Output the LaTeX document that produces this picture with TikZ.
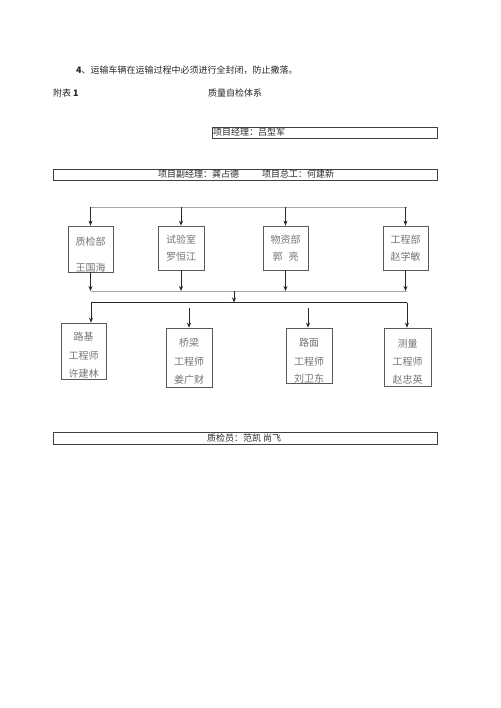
\documentclass[tikz,border=0pt]{standalone}
\usepackage{fontspec}
\newfontfamily\cjk{Noto Sans CJK SC}
\usetikzlibrary{arrows.meta}
\begin{document}
\begin{tikzpicture}[x=1pt,y=-1pt,
  bar/.style={draw=black!75,line width=0.7pt},
  box/.style={draw=black!65,line width=0.7pt,inner sep=0pt},
  btxt/.style={font=\cjk\fontsize{10}{12}\selectfont,text=black!55,inner sep=0pt},
  ttxt/.style={font=\cjk\fontsize{9}{11}\selectfont,text=black!85,inner sep=0pt},
  arr/.style={-{Stealth[length=5pt,width=4pt]},line width=0.8pt,black!85},
  thin/.style={draw=black!35,line width=0.5pt}]
\useasboundingbox (0,0) rectangle (500,708);
% header text
\node[ttxt,anchor=west] (t1) at (76,70) {\textbf{4}、运输车辆在运输过程中必须进行全封闭，防止撒落。};
\node[ttxt,anchor=west] (t2) at (53,93) {附表 \textbf{1}};
\node[ttxt,anchor=west] (t3) at (208,93) {质量自检体系};
% bars
\node[bar,minimum width=225pt,minimum height=11pt,inner sep=0pt] (pm) at (324.5,132.5) {};
\node[ttxt,anchor=west] (pmt) at (213,132.5) {项目经理：吕型军};
\node[bar,minimum width=384pt,minimum height=11pt,inner sep=0pt] (dep) at (245,174.5) {};
\node[ttxt,anchor=west] (dept1) at (158,174.5) {项目副经理：龚占德};
\node[ttxt,anchor=west] (dept2) at (262,174.5) {项目总工：何建新};
\node[bar,minimum width=384pt,minimum height=12pt,inner sep=0pt] (qc) at (245,438) {};
\node[ttxt,anchor=west] (qct) at (207,438) {质检员：范凯 尚飞};
% top distribution line
\coordinate (tl) at (91,207);
\coordinate (tr) at (407,207);
\draw[thin] (tl) -- (tr);
% departments
\node[box,minimum width=45pt,minimum height=46pt] (b1) at (90.5,249) {};
\node[box,minimum width=46pt,minimum height=44pt] (b2) at (181,248) {};
\node[box,minimum width=45pt,minimum height=44pt] (b3) at (285.5,248) {};
\node[box,minimum width=45pt,minimum height=44pt] (b4) at (405.5,248) {};
\node[btxt] (b1a) at (90.5,242) {质检部};
\node[btxt] (b1b) at (90.5,268) {王国海};
\node[btxt] (b2a) at (181,240) {试验室};
\node[btxt] (b2b) at (181,257) {罗恒江};
\node[btxt] (b3a) at (285.5,240) {物资部};
\node[btxt] (b3b) at (285.5,257) {郭\hspace{0.6em}亮};
\node[btxt] (b4a) at (405.5,240) {工程部};
\node[btxt] (b4b) at (405.5,257) {赵学敏};
\foreach \b in {b1,b2,b3,b4} \draw[arr] (\b.north |- tl) -- (\b.north);
% collection line
\coordinate (ml) at (91,291);
\coordinate (mr) at (407,291);
\draw[thin] (ml) -- (mr);
\foreach \b in {b1,b2,b3,b4} \draw[arr] (\b.south) -- (\b.south |- ml);
\coordinate (mc) at (234,291);
\coordinate (ll) at (91,302.5);
\coordinate (lr) at (407,302.5);
\draw[line width=1pt,black!85] (ll) -- (lr);
\draw[arr] (mc) -- (mc |- ll);
% engineers
\node[box,minimum width=45pt,minimum height=56pt] (c1) at (83.5,351) {};
\node[box,minimum width=46pt,minimum height=59pt] (c2) at (189,357.5) {};
\node[box,minimum width=46pt,minimum height=55pt] (c3) at (309,355.5) {};
\node[box,minimum width=47pt,minimum height=58pt] (c4) at (407.5,357) {};
\node[btxt] (c1a) at (83.5,337) {路基};
\node[btxt] (c1b) at (83.5,356) {工程师};
\node[btxt] (c1c) at (83.5,374) {许建林};
\node[btxt] (c2a) at (189,343) {桥梁};
\node[btxt] (c2b) at (189,362) {工程师};
\node[btxt] (c2c) at (189,380) {姜广财};
\node[btxt] (c3a) at (309,343) {路面};
\node[btxt] (c3b) at (309,362) {工程师};
\node[btxt] (c3c) at (309,379) {刘卫东};
\node[btxt] (c4a) at (407.5,344) {测量};
\node[btxt] (c4b) at (407.5,362) {工程师};
\node[btxt] (c4c) at (407.5,380) {赵忠英};
\coordinate (a1) at (91,302.5);
\coordinate (a2) at (189,308);
\coordinate (a3) at (308,308);
\coordinate (a4) at (407,302.5);
\draw[arr] (a1) -- (a1 |- c1.north);
\draw[arr] (a2) -- (a2 |- c2.north);
\draw[arr] (a3) -- (a3 |- c3.north);
\draw[arr] (a4) -- (a4 |- c4.north);
\end{tikzpicture}
\end{document}
